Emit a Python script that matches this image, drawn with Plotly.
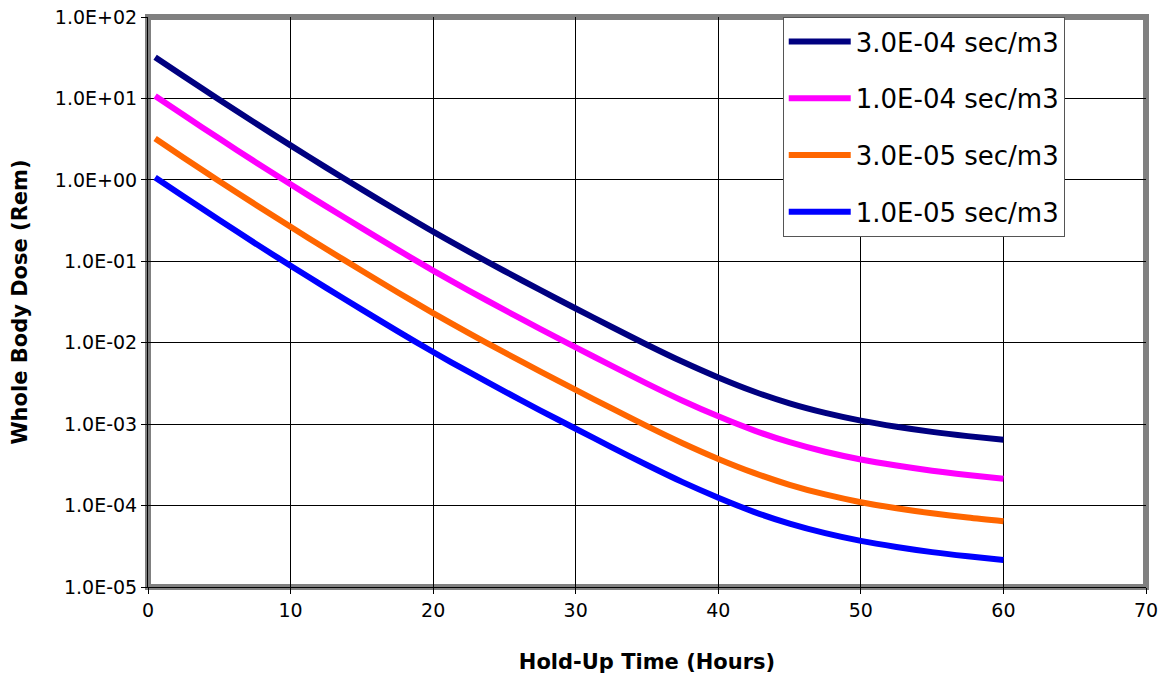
import plotly.graph_objects as go

hours = [0.5, 2.5, 5, 7.5, 10, 12.5, 15, 17.5, 20, 22.5, 25, 27.5, 30,
         32.5, 35, 37.5, 40, 42.5, 45, 47.5, 50, 52.5, 55, 57.5, 60]

dose_3e4 = [32.06, 18.71, 9.62, 5.02, 2.65, 1.415, 0.764, 0.4174, 0.2307, 0.1312,
            0.0760, 0.04446, 0.02633, 0.01569, 0.009451, 0.00583, 0.003741, 0.002515,
            0.0018, 0.001374, 0.001104, 0.000929, 0.000804, 0.000713, 0.000643]
dose_1e4 = [10.69, 6.24, 3.21, 1.67, 0.883, 0.472, 0.255, 0.139, 0.0769, 0.0437,
            0.0253, 0.01482, 0.00878, 0.00523, 0.00315, 0.00194, 0.001247, 0.000838,
            0.0006, 0.000458, 0.000368, 0.00031, 0.000268, 0.000238, 0.000214]
dose_3e5 = [3.21, 1.87, 0.962, 0.502, 0.265, 0.1415, 0.0764, 0.0417, 0.0231, 0.0131,
            0.0076, 0.00445, 0.00263, 0.00157, 0.000945, 0.000583, 0.000374, 0.000252,
            0.00018, 0.000137, 0.00011, 0.0000929, 0.0000805, 0.0000713, 0.0000643]
dose_1e5 = [1.069, 0.624, 0.321, 0.167, 0.0883, 0.0472, 0.0255, 0.0139, 0.00769, 0.00437,
            0.00253, 0.00148, 0.000878, 0.000523, 0.000315, 0.000194, 0.000125, 0.0000838,
            0.00006, 0.0000458, 0.0000368, 0.000031, 0.0000268, 0.0000238, 0.0000214]

series_names = ["3.0E-04 sec/m3", "1.0E-04 sec/m3", "3.0E-05 sec/m3", "1.0E-05 sec/m3"]
series_colors = ["#000080", "#FF00FF", "#FF6600", "#0000FF"]

y_tick_vals = [1e2, 1e1, 1e0, 1e-1, 1e-2, 1e-3, 1e-4, 1e-5]
y_tick_text = ["1.0E+02", "1.0E+01", "1.0E+00", "1.0E-01", "1.0E-02", "1.0E-03", "1.0E-04", "1.0E-05"]
x_tick_vals = [0, 10, 20, 30, 40, 50, 60, 70]

fig = go.Figure()
for i, (name, vals, col) in enumerate(zip(series_names, [dose_3e4, dose_1e4, dose_3e5, dose_1e5], series_colors)):
    fig.add_trace(go.Scatter(
        x=hours, y=vals, name=name, mode="lines",
        line=dict(color=col, width=6, shape="spline", smoothing=0.8),
        legendgroup=f"g{i}",
    ))

font_family = "DejaVu Sans"
fig.update_layout(
    width=1164, height=671,
    margin=dict(l=140, r=26, t=9, b=92),
    paper_bgcolor="white", plot_bgcolor="white",
    font=dict(family=font_family, color="black", size=19),
    showlegend=True,
    legend=dict(
        x=0.636, y=1.0, xanchor="left", yanchor="top",
        bgcolor="white", bordercolor="#555555", borderwidth=1,
        font=dict(family=font_family, size=26, color="black"),
        traceorder="grouped", tracegroupgap=20, itemwidth=62,
    ),
    xaxis=dict(
        range=[0, 70], tickvals=x_tick_vals, ticks="outside", ticklen=6,
        tickcolor="black", showgrid=True, gridcolor="black", gridwidth=1,
        showline=True, linecolor="black", linewidth=1, zeroline=False,
        automargin=False, tickfont=dict(size=19), ticklabeloverflow="allow",
        title=dict(text="<b>Hold-Up Time (Hours)</b>", font=dict(size=21), standoff=34),
    ),
    yaxis=dict(
        type="log", range=[-5, 2], tickvals=y_tick_vals, ticktext=y_tick_text,
        ticks="outside", ticklen=6, tickcolor="black",
        showgrid=True, gridcolor="black", gridwidth=1,
        showline=True, linecolor="black", linewidth=1, zeroline=False,
        automargin=False, tickfont=dict(size=19), ticklabeloverflow="allow",
        title=dict(text="<b>Whole Body Dose (Rem)</b>", font=dict(size=21), standoff=22),
    ),
    shapes=[dict(type="rect", xref="paper", yref="paper", x0=0, y0=0, x1=1, y1=1,
                 line=dict(color="#808080", width=6), layer="below")],
)

fig.write_html("out.html")
